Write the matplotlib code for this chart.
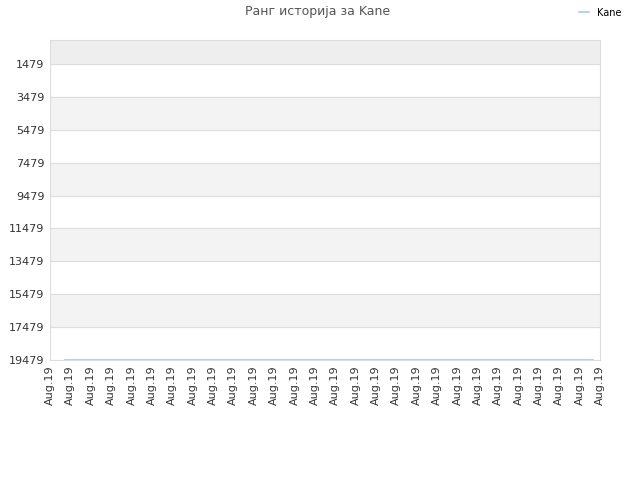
import matplotlib.pyplot as plt

# ---------------- donnees ----------------
jours = [0.75, 3.0, 6.0, 9.0, 12.0, 15.0, 18.0, 21.0, 24.0, 26.65]
rang = [19479, 19479, 19479, 19479, 19479, 19479, 19479, 19479, 19479, 19479]
yticks = [1479, 3479, 5479, 7479, 9479, 11479, 13479, 15479, 17479, 19479]
xlabels = ['Aug.19'] * 28
joueur = 'Kane'

# ---------------- figure ----------------
fig = plt.figure(figsize=(6.4, 4.8), dpi=100)
ax = fig.add_axes([50 / 640, 120 / 480, 550 / 640, 320 / 480])

ax.set_xlim(0, len(xlabels) - 1)
ax.set_ylim(19479, 20)

# bandes grises alternees
ax.axhspan(20, yticks[0], color='#eeeeee', zorder=0)
for i in range(1, len(yticks) - 1, 2):
    ax.axhspan(yticks[i], yticks[i + 1], color='#f3f3f3', zorder=0)

ax.plot(jours, rang, color='#a6c8ee', linewidth=1.2, label=joueur, zorder=3)

ax.set_yticks(yticks)
ax.set_yticklabels([str(v) for v in yticks], fontsize=8, color='#333333')
ax.set_xticks(range(len(xlabels)))
ax.set_xticklabels(xlabels, rotation=90, fontsize=8, color='#333333')
ax.tick_params(length=0, pad=4)

ax.grid(axis='y', color='#dddddd', linewidth=0.8)
for s in ax.spines.values():
    s.set_color('#dddddd')

fig.text(318 / 640, 1 - 12 / 480, 'Ранг историја за Kane', ha='center', va='center',
         fontsize=9, color='#555555')
fig.legend(loc='upper right', bbox_to_anchor=(630 / 640, 1 + 1 / 480), frameon=False,
           fontsize=7, handlelength=1.0, handletextpad=0.8)

plt.savefig('out.png', dpi=100)
